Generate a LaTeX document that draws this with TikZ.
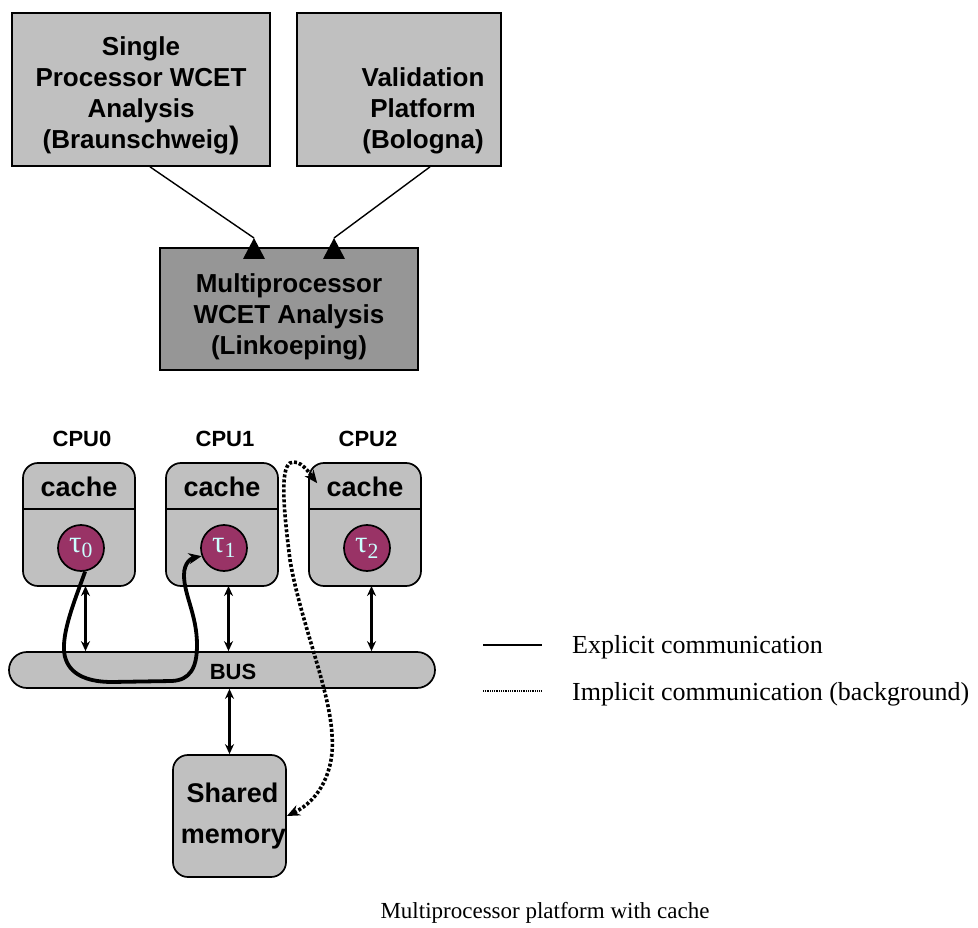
\documentclass[tikz,border=0pt]{standalone}
\usepackage{fontspec}
\setmainfont{Liberation Serif}
\setsansfont{Liberation Sans}
\usetikzlibrary{arrows.meta}
\definecolor{boxgray}{HTML}{C0C0C0}
\definecolor{mpgray}{HTML}{969696}
\definecolor{taskfill}{HTML}{993366}
\definecolor{tasktext}{HTML}{CCFFFF}
\tikzset{
    topbox/.style={draw, line width=1.7pt, fill=boxgray, inner sep=0pt},
    boxtext/.style={font=\sffamily\bfseries\fontsize{26}{31}\selectfont, align=center},
    cpubox/.style={draw, line width=1.7pt, fill=boxgray, rounded corners=15pt, inner sep=0pt},
    cachetext/.style={font=\sffamily\bfseries\fontsize{27}{27}\selectfont, inner sep=0pt},
    cpulabel/.style={font=\sffamily\bfseries\fontsize{22}{22}\selectfont},
    task/.style={circle, draw, line width=1.7pt, fill=taskfill, minimum size=46pt, inner sep=0pt,
        text=tasktext, font=\fontsize{31}{31}\selectfont},
    link/.style={{Stealth[length=10pt,width=9pt]}-{Stealth[length=10pt,width=9pt]}, line width=2.7pt},
    explicit/.style={-{Stealth[length=13pt,width=11pt]}, line width=3.8pt},
    implicit/.style={{Stealth[length=13pt,width=11pt]}-{Stealth[length=13pt,width=11pt]},
        line width=3.6pt, dash pattern=on 3pt off 2pt},
    legendtext/.style={font=\fontsize{26}{26}\selectfont, anchor=base west, inner sep=0pt}
}
% one processor: box, cache row, task circle and name above
\def\CPU (#1) at (#2,#3) label #4 task #5;{
    \node[cpubox, minimum width=112pt, minimum height=123pt] (#1) at (#2,#3) {};
    \draw[line width=1.7pt] ([yshift=-47pt]#1.north west) -- ([yshift=-47pt]#1.north east);
    \node[cachetext] (#1-cache) at (#2,#3 - 38) {cache};
    \node[task] (#1-task) at (#2 + 2,#3 + 23.5) {#5};
    \node[cpulabel] (#1-label) at (#2 + 3,#3 - 86) {#4};
    \coordinate (#1-port) at (#2 + 6.5,#3 + 61.5);
}
% upward arrow head as drawn in the original
\def\UpTip at (#1,#2);{
    \fill (#1,#2) -- (#1 - 11,#2 + 21) -- (#1 + 11,#2 + 21) -- cycle;
}

\begin{document}
\begin{tikzpicture}[x=1pt, y=-1pt]
    \useasboundingbox (0,0) rectangle (978,928);

    % analysis tools
    \node[topbox, minimum width=258pt, minimum height=153pt] (spa) at (141,89.5) {};
    \node[boxtext] (spa-text) at (141,96) {Single\\Processor WCET\\Analysis\\(Braunschweig{\fontsize{31}{31}\selectfont)}};
    \node[topbox, minimum width=204pt, minimum height=153pt] (vp) at (399,89.5) {};
    \node[boxtext] (vp-text) at (423,111) {Validation\\Platform\\(Bologna)};
    \node[topbox, fill=mpgray, minimum width=258pt, minimum height=122pt] (mpa) at (289,309) {};
    \node[boxtext] (mpa-text) at (289,317) {Multiprocessor\\WCET Analysis\\(Linkoeping)};

    \coordinate (tipA) at (254,238);
    \coordinate (tipB) at (334,238);
    \draw[line width=1.4pt] ([xshift=9pt]spa.south) -- (tipA);
    \draw[line width=1.4pt] ([xshift=31pt]vp.south) -- (tipB);
    \UpTip at (254,238);
    \UpTip at (334,238);

    % platform
    \CPU (cpu0) at (79,524.5) label {CPU0} task {τ\textsubscript{0}};
    \CPU (cpu1) at (222,524.5) label {CPU1} task {τ\textsubscript{1}};
    \CPU (cpu2) at (365,524.5) label {CPU2} task {τ\textsubscript{2}};

    \node[cpubox, rounded corners=18pt, minimum width=426pt, minimum height=36pt] (bus) at (222,670) {};
    \node[cpulabel] (bus-text) at (233,672) {BUS};
    \node[cpubox, minimum width=113pt, minimum height=122pt, align=center,
        font=\sffamily\bfseries\fontsize{27}{41}\selectfont] (mem) at (229.5,816) {\hspace*{6pt}Shared\\\hspace*{8pt}memory};

    \draw[link] (cpu0-port) -- (cpu0-port |- bus.north);
    \draw[link] (cpu1-port) -- (cpu1-port |- bus.north);
    \draw[link] (cpu2-port) -- (cpu2-port |- bus.north);
    \draw[link] (mem.north |- bus.south) -- (mem.north);

    % communication
    \draw[explicit] (cpu0-task.-80) .. controls (75,600) and (58,640) .. (66,660)
        .. controls (72,676) and (90,682) .. (112,682) -- (172,681)
        .. controls (190,680) and (197,668) .. (197,645)
        .. controls (197,615) and (184,595) .. (184,575)
        .. controls (184,562) and (192,558) .. (cpu1-task.200);
    \coordinate (c2in) at ([shift={(9pt,-21pt)}]cpu2.north west);
    \draw[implicit] (mem.east) .. controls (320,800) and (335,770) .. (332,735)
        .. controls (330,690) and (300,620) .. (290,560)
        .. controls (285,520) and (279,470) .. (290,463)
        .. controls (300,458) and (310,474) .. (c2in);

    % legend
    \coordinate (leg1a) at (483,645);
    \coordinate (leg1b) at (542,645);
    \coordinate (leg2a) at (483,691);
    \coordinate (leg2b) at (542,691);
    \draw[line width=1.6pt] (leg1a) -- (leg1b);
    \draw[line width=1.6pt, dash pattern=on 1pt off 0.8pt] (leg2a) -- (leg2b);
    \node[legendtext] (leg1) at (572,653) {Explicit communication};
    \node[legendtext] (leg2) at (572,700) {Implicit communication (background)};

    \node[font=\fontsize{23}{23}\selectfont, anchor=base, inner sep=0pt] (caption) at (545,918) {Multiprocessor platform with cache};
\end{tikzpicture}
\end{document}
